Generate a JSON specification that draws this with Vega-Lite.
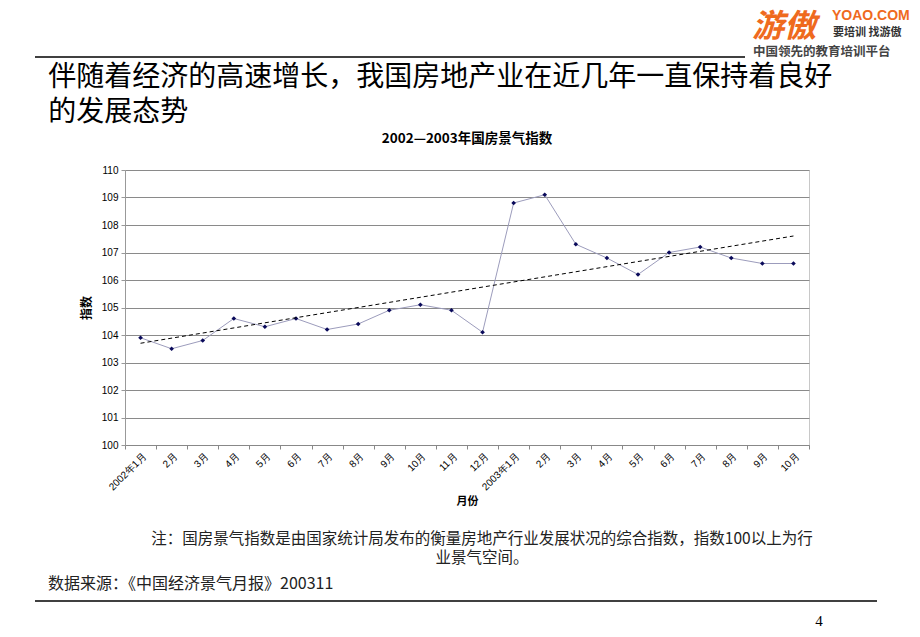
{
  "$schema": "https://vega.github.io/schema/vega-lite/v6.json",
  "background": "white",
  "padding": {"left": 34, "top": 2, "right": 0, "bottom": 0},
  "spacing": 4,
  "config": {"view": {"stroke": null}, "font": "Noto Sans CJK SC"},
  "datasets": {
    "main": [
      {"月份": "2002年1月", "指数": 103.9},
      {"月份": "2002年2月", "指数": 103.5},
      {"月份": "2002年3月", "指数": 103.8},
      {"月份": "2002年4月", "指数": 104.6},
      {"月份": "2002年5月", "指数": 104.3},
      {"月份": "2002年6月", "指数": 104.6},
      {"月份": "2002年7月", "指数": 104.2},
      {"月份": "2002年8月", "指数": 104.4},
      {"月份": "2002年9月", "指数": 104.9},
      {"月份": "2002年10月", "指数": 105.1},
      {"月份": "2002年11月", "指数": 104.9},
      {"月份": "2002年12月", "指数": 104.1},
      {"月份": "2003年1月", "指数": 108.8},
      {"月份": "2003年2月", "指数": 109.1},
      {"月份": "2003年3月", "指数": 107.3},
      {"月份": "2003年4月", "指数": 106.8},
      {"月份": "2003年5月", "指数": 106.2},
      {"月份": "2003年6月", "指数": 107.0},
      {"月份": "2003年7月", "指数": 107.2},
      {"月份": "2003年8月", "指数": 106.8},
      {"月份": "2003年9月", "指数": 106.6},
      {"月份": "2003年10月", "指数": 106.6}
    ],
    "trend": [
      {"月份": "2002年1月", "指数": 103.7},
      {"月份": "2003年10月", "指数": 107.6}
    ]
  },
  "vconcat": [
    {
      "width": 710,
      "height": 55,
      "title": {
        "text": ["伴随着经济的高速增长，我国房地产业在近几年一直保持着良好", "的发展态势"],
        "orient": "bottom",
        "anchor": "start",
        "fontSize": 28,
        "lineHeight": 35,
        "font": "Noto Sans CJK SC",
        "fontWeight": "normal",
        "color": "#000",
        "offset": 6,
        "dx": 14,
        "baseline": "top"
      },
      "data": {"values": [{}]},
      "layer": [
        {"mark": {"type": "rule", "color": "#000", "strokeWidth": 1.5}, "encoding": {"y": {"value": "height"}}},
        {"mark": {"type": "text", "align": "left", "baseline": "middle", "dx": 7, "dy": -3, "fontSize": 32, "fontWeight": "bold", "fontStyle": "italic", "color": "#ef6a1e"}, "encoding": {"x": {"value": "width"}, "text": {"value": "游傲"}}},
        {"mark": {"type": "text", "align": "left", "baseline": "middle", "dx": 87, "dy": -14, "fontSize": 14, "fontWeight": "bold", "font": "Liberation Sans", "color": "#ef6a1e"}, "encoding": {"x": {"value": "width"}, "text": {"value": "YOAO.COM"}}},
        {"mark": {"type": "text", "align": "left", "baseline": "middle", "dx": 88, "dy": 3, "fontSize": 11, "fontWeight": "bold", "color": "#333"}, "encoding": {"x": {"value": "width"}, "text": {"value": "要培训 找游傲"}}},
        {"mark": {"type": "text", "align": "left", "baseline": "middle", "dx": 8, "dy": 22, "fontSize": 12.5, "fontWeight": "bold", "color": "#444"}, "encoding": {"x": {"value": "width"}, "text": {"value": "中国领先的教育培训平台"}}}
      ]
    },
    {
      "spacing": 0,
      "hconcat": [
        {
          "width": 44,
          "height": 275,
          "data": {"values": [{}]},
          "mark": {"type": "text"},
          "encoding": {"text": {"value": ""}}
        },
        {
          "width": 684,
          "height": 275,
          "view": {"stroke": "#c8c8c8"},
          "title": {
            "text": "2002—2003年国房景气指数",
            "fontSize": 13.5,
            "fontWeight": "bold",
            "font": "Noto Sans CJK SC",
            "anchor": "middle",
            "offset": 20,
            "color": "#000"
          },
          "encoding": {
            "x": {
              "field": "月份",
              "type": "ordinal",
              "sort": null,
              "scale": {"type": "band", "paddingInner": 0, "paddingOuter": 0},
              "axis": {
                "title": "月份",
                "titleFont": "Noto Sans CJK SC",
                "titleFontWeight": "bold",
                "titleFontSize": 11,
                "titleColor": "#000",
                "titlePadding": 4,
                "labelAngle": -45,
                "labelFont": "Liberation Sans",
                "labelFontSize": 10,
                "labelColor": "#000",
                "labelPadding": 2,
                "labelExpr": "split(datum.value, '年')[1] == '1月' ? datum.value : split(datum.value, '年')[1]",
                "tickBand": "extent",
                "tickColor": "#888",
                "tickSize": 4,
                "domainColor": "#888",
                "grid": false
              }
            },
            "y": {
              "field": "指数",
              "type": "quantitative",
              "scale": {"domain": [100, 110], "nice": false, "zero": false},
              "axis": {
                "title": "指数",
                "titleFont": "Noto Sans CJK SC",
                "titleFontWeight": "bold",
                "titleFontSize": 12,
                "titleColor": "#000",
                "titlePadding": 8,
                "values": [100, 101, 102, 103, 104, 105, 106, 107, 108, 109, 110],
                "labelFont": "Liberation Sans",
                "labelFontSize": 10,
                "labelColor": "#000",
                "labelPadding": 3,
                "gridColor": "#8a8a8a",
                "gridWidth": 1,
                "domainColor": "#999",
                "tickColor": "#999",
                "tickSize": 4
              }
            }
          },
          "layer": [
            {"data": {"name": "main"}, "mark": {"type": "line", "color": "#9c9cbc", "strokeWidth": 1}},
            {"data": {"name": "main"}, "mark": {"type": "point", "shape": "diamond", "filled": true, "color": "#0a0a5a", "size": 22, "opacity": 1}},
            {"data": {"name": "trend"}, "mark": {"type": "line", "color": "#000", "strokeWidth": 1, "strokeDash": [4, 3]}}
          ]
        }
      ]
    },
    {
      "width": 842,
      "height": 89,
      "data": {"values": [{"note": "注：国房景气指数是由国家统计局发布的衡量房地产行业发展状况的综合指数，指数100以上为行\n业景气空间。", "src": "数据来源：《中国经济景气月报》200311"}]},
      "title": {"text": "4", "orient": "bottom", "anchor": "end", "dx": -55, "offset": 12, "fontSize": 15, "fontWeight": "normal", "font": "Liberation Serif", "color": "#000"},
      "layer": [
        {"mark": {"type": "text", "lineBreak": "\n", "baseline": "top", "align": "center", "fontSize": 15.5, "lineHeight": 18.5, "dx": 26, "dy": -24.5, "color": "#222"}, "encoding": {"text": {"field": "note"}}},
        {"mark": {"type": "text", "baseline": "middle", "align": "left", "fontSize": 16, "dx": 13, "dy": 27.5, "color": "#222"}, "encoding": {"x": {"value": 0}, "text": {"field": "src"}}},
        {"mark": {"type": "rule", "color": "#000", "strokeWidth": 1.5}, "encoding": {"y": {"value": "height"}}}
      ]
    }
  ]
}
